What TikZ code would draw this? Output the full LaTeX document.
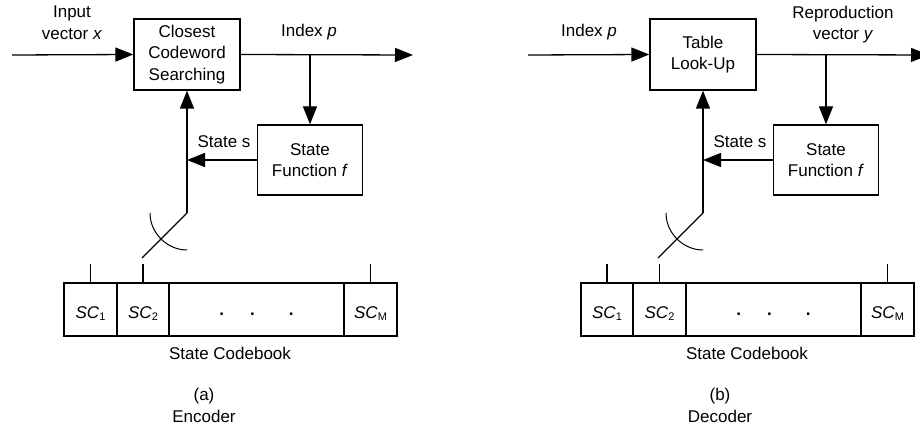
\documentclass[tikz,border=0pt]{standalone}
\usepackage{fontspec}
\setmainfont{Liberation Sans}
\usetikzlibrary{arrows.meta}

\newcommand{\cw}[1]{\textit{SC}\raisebox{-1.5pt}{\fontsize{11}{11}\selectfont #1}}

\tikzset{
	every node/.style={font=\fontsize{17}{21.7}\selectfont},
	block/.style={draw, line width=1.3pt, align=center, inner sep=0pt, minimum width=106pt, minimum height=71pt},
	cell/.style={draw, line width=1.3pt, inner sep=0pt, minimum height=53pt, text height=18pt, text depth=0pt},
	arr/.style={line width=1.3pt, -{Triangle[length=18pt, width=14pt]}},
	wire/.style={line width=1.3pt}
}

\begin{document}
\begin{tikzpicture}[x=1pt, y=-1pt]
	\clip (0,0) rectangle (920,430);
	%\draw[help lines] (0,0) grid[step=50] (920,430);

	% encoder
	\node[block] (encsearch) at (187,54.5) {Closest\\Codeword\\Searching};
	\node[block, minimum width=105pt, minimum height=70pt] (encstate) at (310,160) {State\\Function \textit{f}};
	\coordinate (encin) at (12,55);
	\coordinate (encout) at (413,55);
	\coordinate (encsplit) at (310,55);
	\coordinate (encjoin) at (187,160);
	\coordinate (encpivot) at (187,213);
	\coordinate (enctip) at (142,258);
	\coordinate (encarcA) at (150,213);
	\coordinate (encarcB) at (187,250);
	\draw[arr] (encin) -- (encsearch.west);
	\draw[arr] (encsearch.east) -- (encout);
	\draw[arr] (encsplit) -- (encstate.north);
	\draw[arr] (encstate.west) -- (encjoin);
	\draw[arr] (encpivot) -- (encsearch.south);
	\draw[wire] (encpivot) -- (enctip);
	\draw[line width=1pt] (encarcA) .. controls +(0,20) and +(-20,0) .. (encarcB);
	\node[align=center] (encinlabel) at (72,23) {Input\\vector \textit{x}};
	\node[anchor=base] (encplabel) at (309,37) {Index \textit{p}};
	\node[anchor=base] (encslabel) at (224,148) {State s};

	\node[cell, minimum width=53pt] (enccb1) at (90.5,309.5) {\cw{1}};
	\node[cell, minimum width=52pt] (enccb2) at (143,309.5) {\cw{2}};
	\node[cell, minimum width=175pt] (enccbdots) at (256.5,309.5) {\raisebox{3pt}{\textbf{.}\hspace{26pt}\textbf{.}\hspace{34pt}\textbf{.}}};
	\node[cell, minimum width=53pt] (enccbM) at (370.5,309.5) {\cw{M}};
	\draw[wire] (enccb1.north) -- ++(0,-18);
	\draw[wire] (enccb2.north) -- ++(0,-18);
	\draw[wire] (enccbM.north) -- ++(0,-18);
	\node[anchor=base] (enccblabel) at (230,359) {State Codebook};
	\node[align=center] (enccaption) at (204,405.3) {(a)\\Encoder};

	% decoder
	\node[block] (decsearch) at (703,54.5) {Table\\Look-Up};
	\node[block, minimum width=105pt, minimum height=70pt] (decstate) at (826,160) {State\\Function \textit{f}};
	\coordinate (decin) at (528,55);
	\coordinate (decout) at (929,55);
	\coordinate (decsplit) at (826,55);
	\coordinate (decjoin) at (703,160);
	\coordinate (decpivot) at (703,213);
	\coordinate (dectip) at (658,258);
	\coordinate (decarcA) at (666,213);
	\coordinate (decarcB) at (703,250);
	\draw[arr] (decin) -- (decsearch.west);
	\draw[arr] (decsearch.east) -- (decout);
	\draw[arr] (decsplit) -- (decstate.north);
	\draw[arr] (decstate.west) -- (decjoin);
	\draw[arr] (decpivot) -- (decsearch.south);
	\draw[wire] (decpivot) -- (dectip);
	\draw[line width=1pt] (decarcA) .. controls +(0,20) and +(-20,0) .. (decarcB);
	\node[anchor=base] (decplabel) at (589,37) {Index \textit{p}};
	\node[align=center] (decylabel) at (843,24.6) {Reproduction\\vector \textit{y}};
	\node[anchor=base] (decslabel) at (740,148) {State s};

	\node[cell, minimum width=52pt] (deccb1) at (607,309.5) {\cw{1}};
	\node[cell, minimum width=53pt] (deccb2) at (659.5,309.5) {\cw{2}};
	\node[cell, minimum width=175pt] (deccbdots) at (773.5,309.5) {\raisebox{3pt}{\textbf{.}\hspace{26pt}\textbf{.}\hspace{34pt}\textbf{.}}};
	\node[cell, minimum width=53pt] (deccbM) at (887.5,309.5) {\cw{M}};
	\draw[wire] (deccb1.north) -- ++(0,-18);
	\draw[wire] (deccb2.north) -- ++(0,-18);
	\draw[wire] (deccbM.north) -- ++(0,-18);
	\node[anchor=base] (deccblabel) at (747,359) {State Codebook};
	\node[align=center] (deccaption) at (720,405.3) {(b)\\Decoder};
\end{tikzpicture}
\end{document}
